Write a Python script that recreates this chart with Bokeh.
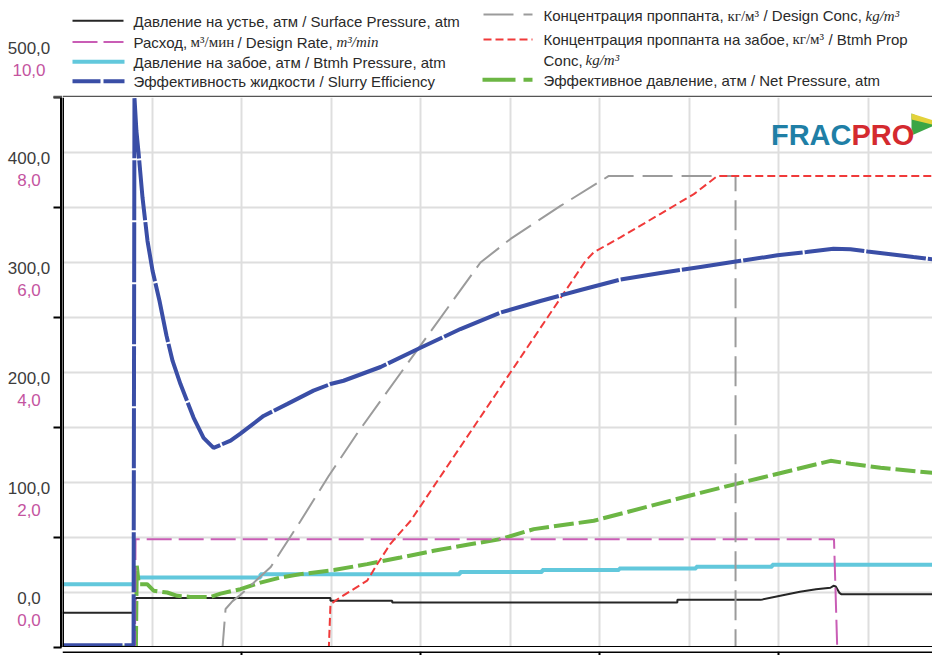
from bokeh.plotting import figure
from bokeh.models import Range1d, FixedTicker, ColumnDataSource, Span, Label
from bokeh.layouts import column, row
from bokeh.embed import file_html
from bokeh.resources import INLINE
from bokeh.core.properties import value

# ---------------- data (time in minutes) ----------------
time_surface = [0, 3.97, 4.0, 4.1, 14.97, 14.97, 18.42, 18.42, 34.35, 34.35, 39.0, 40.1, 41.2,
                42.1, 42.9, 43.07, 43.2, 43.4, 43.5, 48.6]
surface_pressure = [31.5, 31.5, 40.0, 44.9, 44.9, 42.5, 42.5, 40.9, 40.9, 43.3, 43.3, 47.0, 50.6,
                    52.9, 54.3, 56.1, 55.5, 49.7, 48.5, 48.5]

time_btmh = [0, 4.0, 4.0, 11.06, 11.06, 22.2, 22.2, 26.8, 26.8, 31.1, 31.1, 35.4, 35.4, 39.65, 39.65, 48.6]
btmh_pressure = [57.6, 57.6, 63.6, 63.6, 66.7, 66.7, 68.6, 68.6, 70.4, 70.4, 71.8, 71.8, 73.4, 73.4, 75.2, 75.2]

time_rate = [0, 4.05, 4.08, 43.1, 43.28, 48.6]
design_rate = [0, 0, 1.97, 1.97, 0, 0]

time_eff = [0, 3.97, 4.02, 4.13, 4.25, 4.47, 4.75, 5.03, 5.42, 5.81, 6.15, 6.59, 7.32, 7.88, 8.44,
            9.39, 9.94, 11.23, 12.57, 14.02, 14.97, 15.70, 17.77, 20.0, 22.23, 24.47, 26.70, 28.94,
            31.17, 33.41, 35.64, 37.88, 39.94, 41.56, 43.07, 44.02, 44.97, 46.26, 47.54, 48.60]
slurry_eff = [0.4, 0.4, 100, 93.9, 89.9, 81.8, 73.9, 68.5, 63.0, 56.7, 52.1, 47.9, 41.8, 38.1, 36.3,
              37.6, 38.9, 42.1, 44.3, 46.7, 47.9, 48.5, 51.0, 54.5, 57.9, 60.9, 63.0, 65.0,
              66.9, 68.1, 69.2, 70.3, 71.3, 71.9, 72.5, 72.4, 72.0, 71.5, 71.0, 70.6]

time_dconc = [0, 8.94, 9.11, 9.50, 9.94, 11.62, 13.30, 14.86, 16.48, 17.77, 23.35, 25.03, 27.82,
              30.23, 30.5, 37.6, 37.6, 48.6]
design_conc = [0, 0, 49, 59, 67, 102, 161, 218, 273, 314, 490, 520, 562, 596, 600, 600, 0, 0]

time_bconc = [0, 14.88, 14.97, 15.53, 17.02, 17.58, 18.32, 19.44, 29.22, 29.68, 31.17, 33.41,
              35.27, 36.58, 48.6]
btmh_conc = [0, 0, 55, 64, 85, 106, 132, 161, 492, 503, 522, 552, 577, 600, 600]

time_net = [0, 4.1, 4.15, 4.26, 4.73, 5.10, 5.85, 6.41, 7.15, 8.27, 8.83, 9.94, 11.06, 12.18, 13.30,
            15.16, 17.02, 18.88, 20.74, 22.61, 24.47, 26.33, 29.68, 35.64, 37.88, 42.91, 44.02,
            45.70, 48.60]
net_pressure = [0, 0, 74.3, 57.6, 57.6, 51.5, 50.0, 47.0, 46.0, 46.0, 49.0, 53.0, 59.0, 63.6, 66.7,
                70.4, 75.8, 81.8, 87.9, 93.4, 98.5, 107.6, 115.2, 140.6, 149.7, 169.7, 167.0,
                163.4, 158.8]

pressure_ticks = [0, 100, 200, 300, 400, 500]
rate_ticks = [0, 2, 4, 6, 8, 10]
pressure_labels = ["0,0", "100,0", "200,0", "300,0", "400,0", "500,0"]
rate_labels = ["0,0", "2,0", "4,0", "6,0", "8,0", "10,0"]
time_ticks = [10, 20, 30, 40]
grid_x = [5, 10, 15, 20, 25, 30, 35, 40, 45]
grid_y = [50, 100, 150, 200, 250, 300, 350, 400, 450]

# ---------------- styles ----------------
C_BLACK = "#262626"
C_CYAN = "#62c8dc"
C_PINK = "#c95db5"
C_BLUE = "#3a4ea6"
C_GRAY = "#9b9b9b"
C_RED = "#f03a3a"
C_GREEN = "#6cb644"
C_LBL = "#3c3c3c"
C_LBL_PINK = "#c4549f"

W = 932
H = 655
LEG_H = 97
MAIN_H = 550
BOT_H = 8
LEFT = 62
PW = W - LEFT
SANS = "Liberation Sans"
SERIF = "Liberation Serif"
PX_PER_MIN = 17.9
PX_PER_ATM = 1.1
X_END = PW / PX_PER_MIN

def page_y(pressure):
    # vertical page position of a pressure value (frame spans 0..500 atm)
    return LEG_H + (500 - pressure) * PX_PER_ATM

# ---------------- left strip: stacked tick labels + tick marks ----------------
lab = figure(width=LEFT, height=H, x_range=Range1d(0, LEFT), y_range=Range1d(H, 0),
             output_backend="svg", toolbar_location=None, x_axis_location=None, y_axis_location=None,
             min_border=0, outline_line_color=None)
lab.grid.visible = False
tick_y = [page_y(t) for t in pressure_ticks]
lab.text(x=[28.5] * len(tick_y), y=[v - 50 for v in tick_y], text=pressure_labels,
         text_font=value(SANS), text_font_size="17px", text_color=C_LBL,
         text_align="center", text_baseline="middle")
lab.text(x=[28.5] * len(tick_y), y=[v - 28 for v in tick_y], text=rate_labels,
         text_font=value(SANS), text_font_size="17px", text_color=C_LBL_PINK,
         text_align="center", text_baseline="middle")
lab.segment(x0=[53] * len(tick_y), y0=tick_y, x1=[61] * len(tick_y), y1=tick_y,
            line_color="black", line_width=2)
lab.line([61, 61], [LEG_H, LEG_H + MAIN_H], line_color="black", line_width=3)
lab.line([53, LEFT], [96.2, 96.2], line_color="#555555", line_width=2)

# ---------------- main figure ----------------
p = figure(width=PW, height=MAIN_H, x_range=Range1d(0, X_END), y_range=Range1d(0, 500),
           output_backend="svg", toolbar_location=None, x_axis_location=None, y_axis_location=None,
           min_border=0, outline_line_color=None)
p.extra_y_ranges = {"rate": Range1d(0, 10), "eff": Range1d(0, 100), "conc": Range1d(0, 700)}

p.xgrid.ticker = FixedTicker(ticks=grid_x)
p.ygrid.ticker = FixedTicker(ticks=grid_y)
p.grid.grid_line_color = "#dedede"
p.grid.grid_line_width = 2

p.add_layout(Span(location=0, dimension="width", line_color="black", line_width=3))
p.add_layout(Span(location=0, dimension="height", line_color="black", line_width=3))

p.line(time_btmh, btmh_pressure, line_color=C_CYAN, line_width=4)
p.line(time_surface, surface_pressure, line_color=C_BLACK, line_width=2)
p.line(time_net, net_pressure, line_color=C_GREEN, line_width=4, line_dash="20 5")
p.line(time_rate, design_rate, y_range_name="rate", line_color=C_PINK, line_width=2, line_dash="25 7")
p.line(time_dconc, design_conc, y_range_name="conc", line_color=C_GRAY, line_width=2, line_dash="30 9")
p.line(time_bconc, btmh_conc, y_range_name="conc", line_color=C_RED, line_width=2, line_dash="8 4")
p.line(time_eff, slurry_eff, y_range_name="eff", line_color=C_BLUE, line_width=4, line_dash="60 2")

# FRACPRO logo (page pixel -> data helpers)
def tx(px):
    return (px - LEFT) / PX_PER_MIN

def py(pyy):
    return (LEG_H + MAIN_H - pyy) / PX_PER_ATM

p.add_layout(Label(x=tx(851), y=py(134.5), text="FRAC", text_align="right", text_baseline="alphabetic",
                   text_color="#1f7fa6", text_font=SANS, text_font_style="bold", text_font_size="29px"))
p.add_layout(Label(x=tx(851), y=py(134.5), text="PRO", text_align="left", text_baseline="alphabetic",
                   text_color="#d42a2f", text_font=SANS, text_font_style="bold", text_font_size="29px"))
p.patch([tx(911), tx(936), tx(911)], [py(113), py(124), py(135)], fill_color="#3aa546", line_color=None)
p.patch([tx(911), tx(936), tx(936), tx(911)], [py(113), py(121), py(125), py(119)],
        fill_color="#e3d23a", line_color=None)

# ---------------- bottom strip: x-axis tick marks ----------------
bot = figure(width=PW, height=BOT_H, x_range=p.x_range, y_range=Range1d(0, BOT_H),
             output_backend="svg", toolbar_location=None, x_axis_location=None, y_axis_location=None,
             min_border=0, outline_line_color=None)
bot.grid.visible = False
bot.segment(x0=time_ticks, y0=[BOT_H] * len(time_ticks), x1=time_ticks, y1=[0] * len(time_ticks),
            line_color="black", line_width=2)
bot.line([0, X_END], [BOT_H, BOT_H], line_color="black", line_width=3)

# ---------------- legend figure (data coords = page pixels) ----------------
leg = figure(width=PW, height=LEG_H, x_range=Range1d(LEFT, W), y_range=Range1d(LEG_H, 0),
             output_backend="svg", toolbar_location=None, x_axis_location=None, y_axis_location=None,
             min_border=0, outline_line_color=None)
leg.grid.visible = False

leg.line([LEFT, W], [96.2, 96.2], line_color="#555555", line_width=2)

leg_line_colors = [C_BLACK, C_PINK, C_CYAN, C_BLUE, C_GRAY, C_RED, C_GREEN]
leg_line_widths = [2, 2, 4, 4, 2, 2, 4]
leg_line_dashes = ["solid", "25 6", "solid", "28 3", "30 10", "8 4", "33 8"]
leg_line_x0 = [72, 72, 72, 72, 483, 483, 482]
leg_line_x1 = [123, 123, 124, 124, 532, 532, 532]
leg_line_y = [20.3, 41.5, 61.2, 80.7, 14.0, 39.0, 79.3]
for c, w_, d, x0, x1, yy in zip(leg_line_colors, leg_line_widths, leg_line_dashes,
                                 leg_line_x0, leg_line_x1, leg_line_y):
    leg.line([x0, x1], [yy, yy], line_color=c, line_width=w_, line_dash=d)

piece_x = [133, 133, 190, 237, 336, 133, 133,
           543, 727, 763, 865, 543, 792, 828, 543, 585, 543]
piece_y = [20.7, 41.7, 41.7, 41.7, 41.7, 61.7, 81.0,
           15.0, 15.0, 15.0, 15.0, 38.5, 38.5, 38.5, 59.5, 59.5, 79.5]
piece_text = ["Давление на устье, атм / Surface Pressure, atm",
              "Расход,", "м³/мин", "/ Design Rate,", "m³/min",
              "Давление на забое, атм / Btmh Pressure, atm",
              "Эффективность жидкости / Slurry Efficiency",
              "Концентрация проппанта,", "кг/м³", "/ Design Conc,", "kg/m³",
              "Концентрация проппанта на забое,", "кг/м³", "/ Btmh Prop",
              "Conc,", "kg/m³",
              "Эффективное давление, атм / Net Pressure, atm"]
piece_font = [SANS, SANS, SERIF, SANS, SERIF, SANS, SANS,
              SANS, SERIF, SANS, SERIF, SANS, SERIF, SANS, SANS, SERIF, SANS]
piece_style = ["normal", "normal", "normal", "normal", "italic", "normal", "normal",
               "normal", "normal", "normal", "italic", "normal", "normal", "normal",
               "normal", "italic", "normal"]
leg_src = ColumnDataSource(dict(x=piece_x, y=piece_y, text=piece_text, font=piece_font, style=piece_style))
leg.text(x="x", y="y", text="text", source=leg_src, text_font="font", text_font_style="style",
         text_font_size="15px", text_color="#2a2a2a", text_baseline="middle", text_align="left")

layout = row(lab, column(leg, p, bot))
open("out.html", "w").write(file_html(layout, INLINE))
